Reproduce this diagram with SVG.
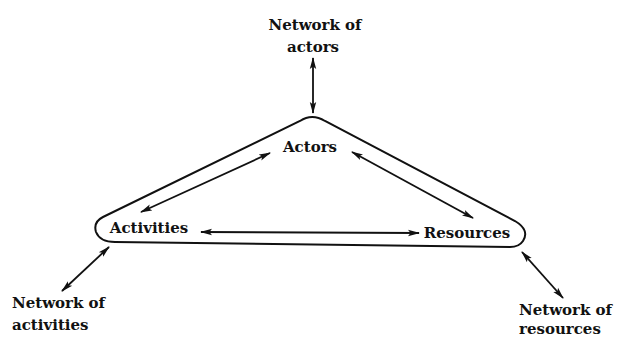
<svg xmlns="http://www.w3.org/2000/svg" width="620" height="338" viewBox="0 0 620 338">
<style>
text{font-family:"DejaVu Serif","Liberation Serif",serif;font-weight:bold;font-size:15px;fill:#111}
.c{text-anchor:middle}
.ln{fill:none;stroke:#111;stroke-width:2}
.ar{fill:none;stroke:#111;stroke-width:1.8;marker-start:url(#h);marker-end:url(#h)}
</style>
<defs>
<marker id="h" viewBox="0 0 12 8" refX="11" refY="4" markerWidth="12" markerHeight="8" markerUnits="userSpaceOnUse" orient="auto-start-reverse">
<path d="M0,0.8 L12,4 L0,7.2 L2.5,4 Z" fill="#111"/>
</marker>
</defs>
<rect width="620" height="338" fill="#fff"/>
<g id="triangle">
<path class="ln" d="M300,121 Q312,113 325,121 L515,221 Q530,230 523,241 Q519,247 510,247 L115,242 Q100,242 96,232 Q93,222 103,217 Z"/>
</g>
<g id="actors"><text class="c" x="310" y="152">Actors</text></g>
<g id="activities"><text class="c" x="149" y="233">Activities</text></g>
<g id="resources"><text class="c" x="467" y="238">Resources</text></g>
<g id="network-actors"><text class="c" x="315" y="30">Network of</text><text class="c" x="313" y="52">actors</text></g>
<g id="network-activities"><text x="12" y="308">Network of</text><text x="12" y="330">activities</text></g>
<g id="network-resources"><text x="519" y="315">Network of</text><text x="519" y="334">resources</text></g>
<g id="connectors">
<line class="ar" x1="313" y1="58" x2="313" y2="113"/>
<line class="ar" x1="270" y1="153" x2="141" y2="212"/>
<line class="ar" x1="352" y1="152" x2="473" y2="218"/>
<line class="ar" x1="201" y1="232" x2="419" y2="233"/>
<line class="ar" x1="109" y1="247" x2="62" y2="291"/>
<line class="ar" x1="522" y1="252" x2="563" y2="298"/>
</g>
</svg>
